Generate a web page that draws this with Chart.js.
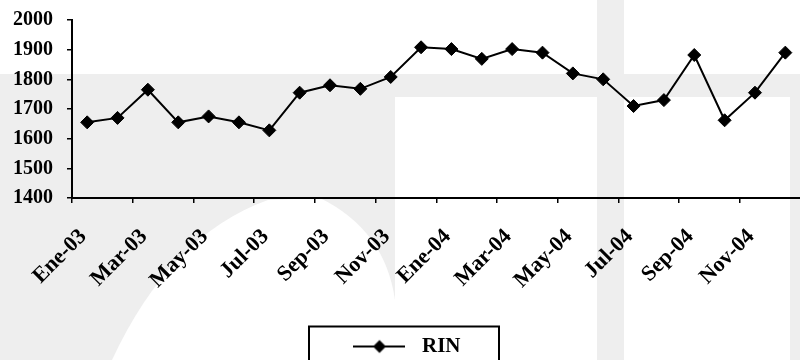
<!DOCTYPE html>
<html>
<head>
<meta charset="utf-8">
<script src="https://cdn.jsdelivr.net/npm/chart.js@4/dist/chart.umd.min.js"></script>
<style>
  html, body { margin: 0; padding: 0; overflow: hidden; background: #fff; }
  #wrap { position: relative; width: 808px; height: 360px; }
</style>
</head>
<body>
<div id="wrap"><canvas id="c"></canvas></div>
<script>
const categories = ['Ene-03','Feb-03','Mar-03','Abr-03','May-03','Jun-03','Jul-03','Ago-03','Sep-03','Oct-03','Nov-03','Dic-03',
                    'Ene-04','Feb-04','Mar-04','Abr-04','May-04','Jun-04','Jul-04','Ago-04','Sep-04','Oct-04','Nov-04','Dic-04'];
const rinValues = [1655,1670,1765,1655,1675,1655,1628,1755,1780,1768,1808,1908,
                   1902,1869,1902,1890,1820,1800,1710,1730,1882,1662,1755,1890];
const yMin = 1400, yMax = 2000, yStep = 100;
const seriesName = 'RIN';

const FONT = '"Liberation Serif", "Times New Roman", serif';

// legend marker: line with diamond
function legendMarker() {
  const c = document.createElement('canvas');
  c.width = 52; c.height = 16;
  const g = c.getContext('2d');
  g.strokeStyle = '#000'; g.lineWidth = 2;
  g.beginPath(); g.moveTo(0, 8); g.lineTo(52, 8); g.stroke();
  g.fillStyle = '#000';
  g.beginPath(); g.moveTo(26, 1.5); g.lineTo(32.5, 8); g.lineTo(26, 14.5); g.lineTo(19.5, 8); g.closePath(); g.fill();
  return c;
}
const marker = legendMarker();

const watermark = {
  id: 'watermark',
  beforeDraw(chart) {
    const ctx = chart.ctx;
    ctx.save();
    ctx.fillStyle = '#fff';
    ctx.fillRect(0, 0, chart.width, chart.height);
    ctx.fillStyle = '#eeeeee';
    ctx.fillRect(0, 74, 395, 300);
    ctx.fillRect(395, 74, 202, 23);
    ctx.fillRect(597, 0, 27, 360);
    ctx.fillRect(624, 74, 166, 23);
    ctx.fillRect(790, 74, 30, 300);
    ctx.fillStyle = '#fff';
    ctx.beginPath();
    ctx.moveTo(112, 360);
    ctx.quadraticCurveTo(170, 235, 268, 200);
    ctx.lineTo(320, 198);
    ctx.quadraticCurveTo(385, 230, 395, 300);
    ctx.lineTo(395, 360);
    ctx.closePath();
    ctx.fill();
    ctx.restore();
  }
};

const legendBox = {
  id: 'legendBox',
  afterDraw(chart) {
    const lg = chart.legend;
    if (!lg || !lg.legendHitBoxes || !lg.legendHitBoxes.length) return;
    const h = lg.legendHitBoxes[0];
    const cx = h.left + h.width / 2;
    const cy = h.top + h.height / 2;
    const ctx = chart.ctx;
    ctx.save();
    ctx.strokeStyle = '#000';
    ctx.lineWidth = 2;
    ctx.strokeRect(cx - 95, cy - 20, 190, 60);
    ctx.restore();
  }
};

new Chart(document.getElementById('c'), {
  type: 'line',
  data: {
    labels: categories,
    datasets: [{
      label: seriesName,
      data: rinValues,
      borderColor: '#000',
      backgroundColor: '#000',
      borderWidth: 2,
      tension: 0,
      pointStyle: 'rectRot',
      pointRadius: 6.5,
      pointHoverRadius: 6.5,
      pointBackgroundColor: '#000',
      pointBorderColor: '#000',
      pointBorderWidth: 1
    }]
  },
  options: {
    responsive: true,
    maintainAspectRatio: false,
    animation: false,
    events: [],
    layout: { padding: { top: 20, left: 0, right: 0, bottom: -7 } },
    plugins: {
      tooltip: { enabled: false },
      legend: {
        position: 'bottom',
        labels: {
          usePointStyle: true,
          pointStyleWidth: 64,
          padding: 10,
          color: '#000',
          font: { family: FONT, size: 21, weight: 'bold' },
          generateLabels: (chart) => [{
            text: seriesName,
            pointStyle: marker,
            fillStyle: '#000',
            strokeStyle: '#000',
            lineWidth: 0,
            hidden: false,
            datasetIndex: 0
          }]
        }
      }
    },
    scales: {
      x: {
        type: 'category',
        offset: true,
        afterFit: (s) => { s.height = 128; s.paddingRight = 0; s.paddingLeft = 0; },
        border: { display: true, color: '#000', width: 2 },
        grid: {
          offset: true,
          drawOnChartArea: false,
          drawTicks: true,
          tickLength: 5,
          lineWidth: 1.5,
          color: (ctx) => (ctx.index % 2 === 0 ? '#000' : 'rgba(0,0,0,0)')
        },
        ticks: {
          autoSkip: false,
          minRotation: 45,
          maxRotation: 45,
          padding: 17,
          color: '#000',
          font: { family: FONT, size: 22, weight: 'bold' },
          callback: (v, i) => (i % 2 === 0 ? categories[i] + ' ' : '')
        }
      },
      y: {
        min: yMin,
        max: yMax,
        afterFit: (s) => { s.width = 72; s.paddingTop = 0; s.paddingBottom = 0; },
        border: { display: true, color: '#000', width: 2 },
        grid: { drawOnChartArea: false, drawTicks: true, tickLength: 5, lineWidth: 1.5, color: '#000' },
        ticks: {
          stepSize: yStep,
          padding: 14,
          color: '#000',
          font: { family: FONT, size: 20, weight: 'bold' },
          callback: (v) => String(v)
        }
      }
    }
  },
  plugins: [watermark, legendBox]
});
</script>
</body>
</html>
